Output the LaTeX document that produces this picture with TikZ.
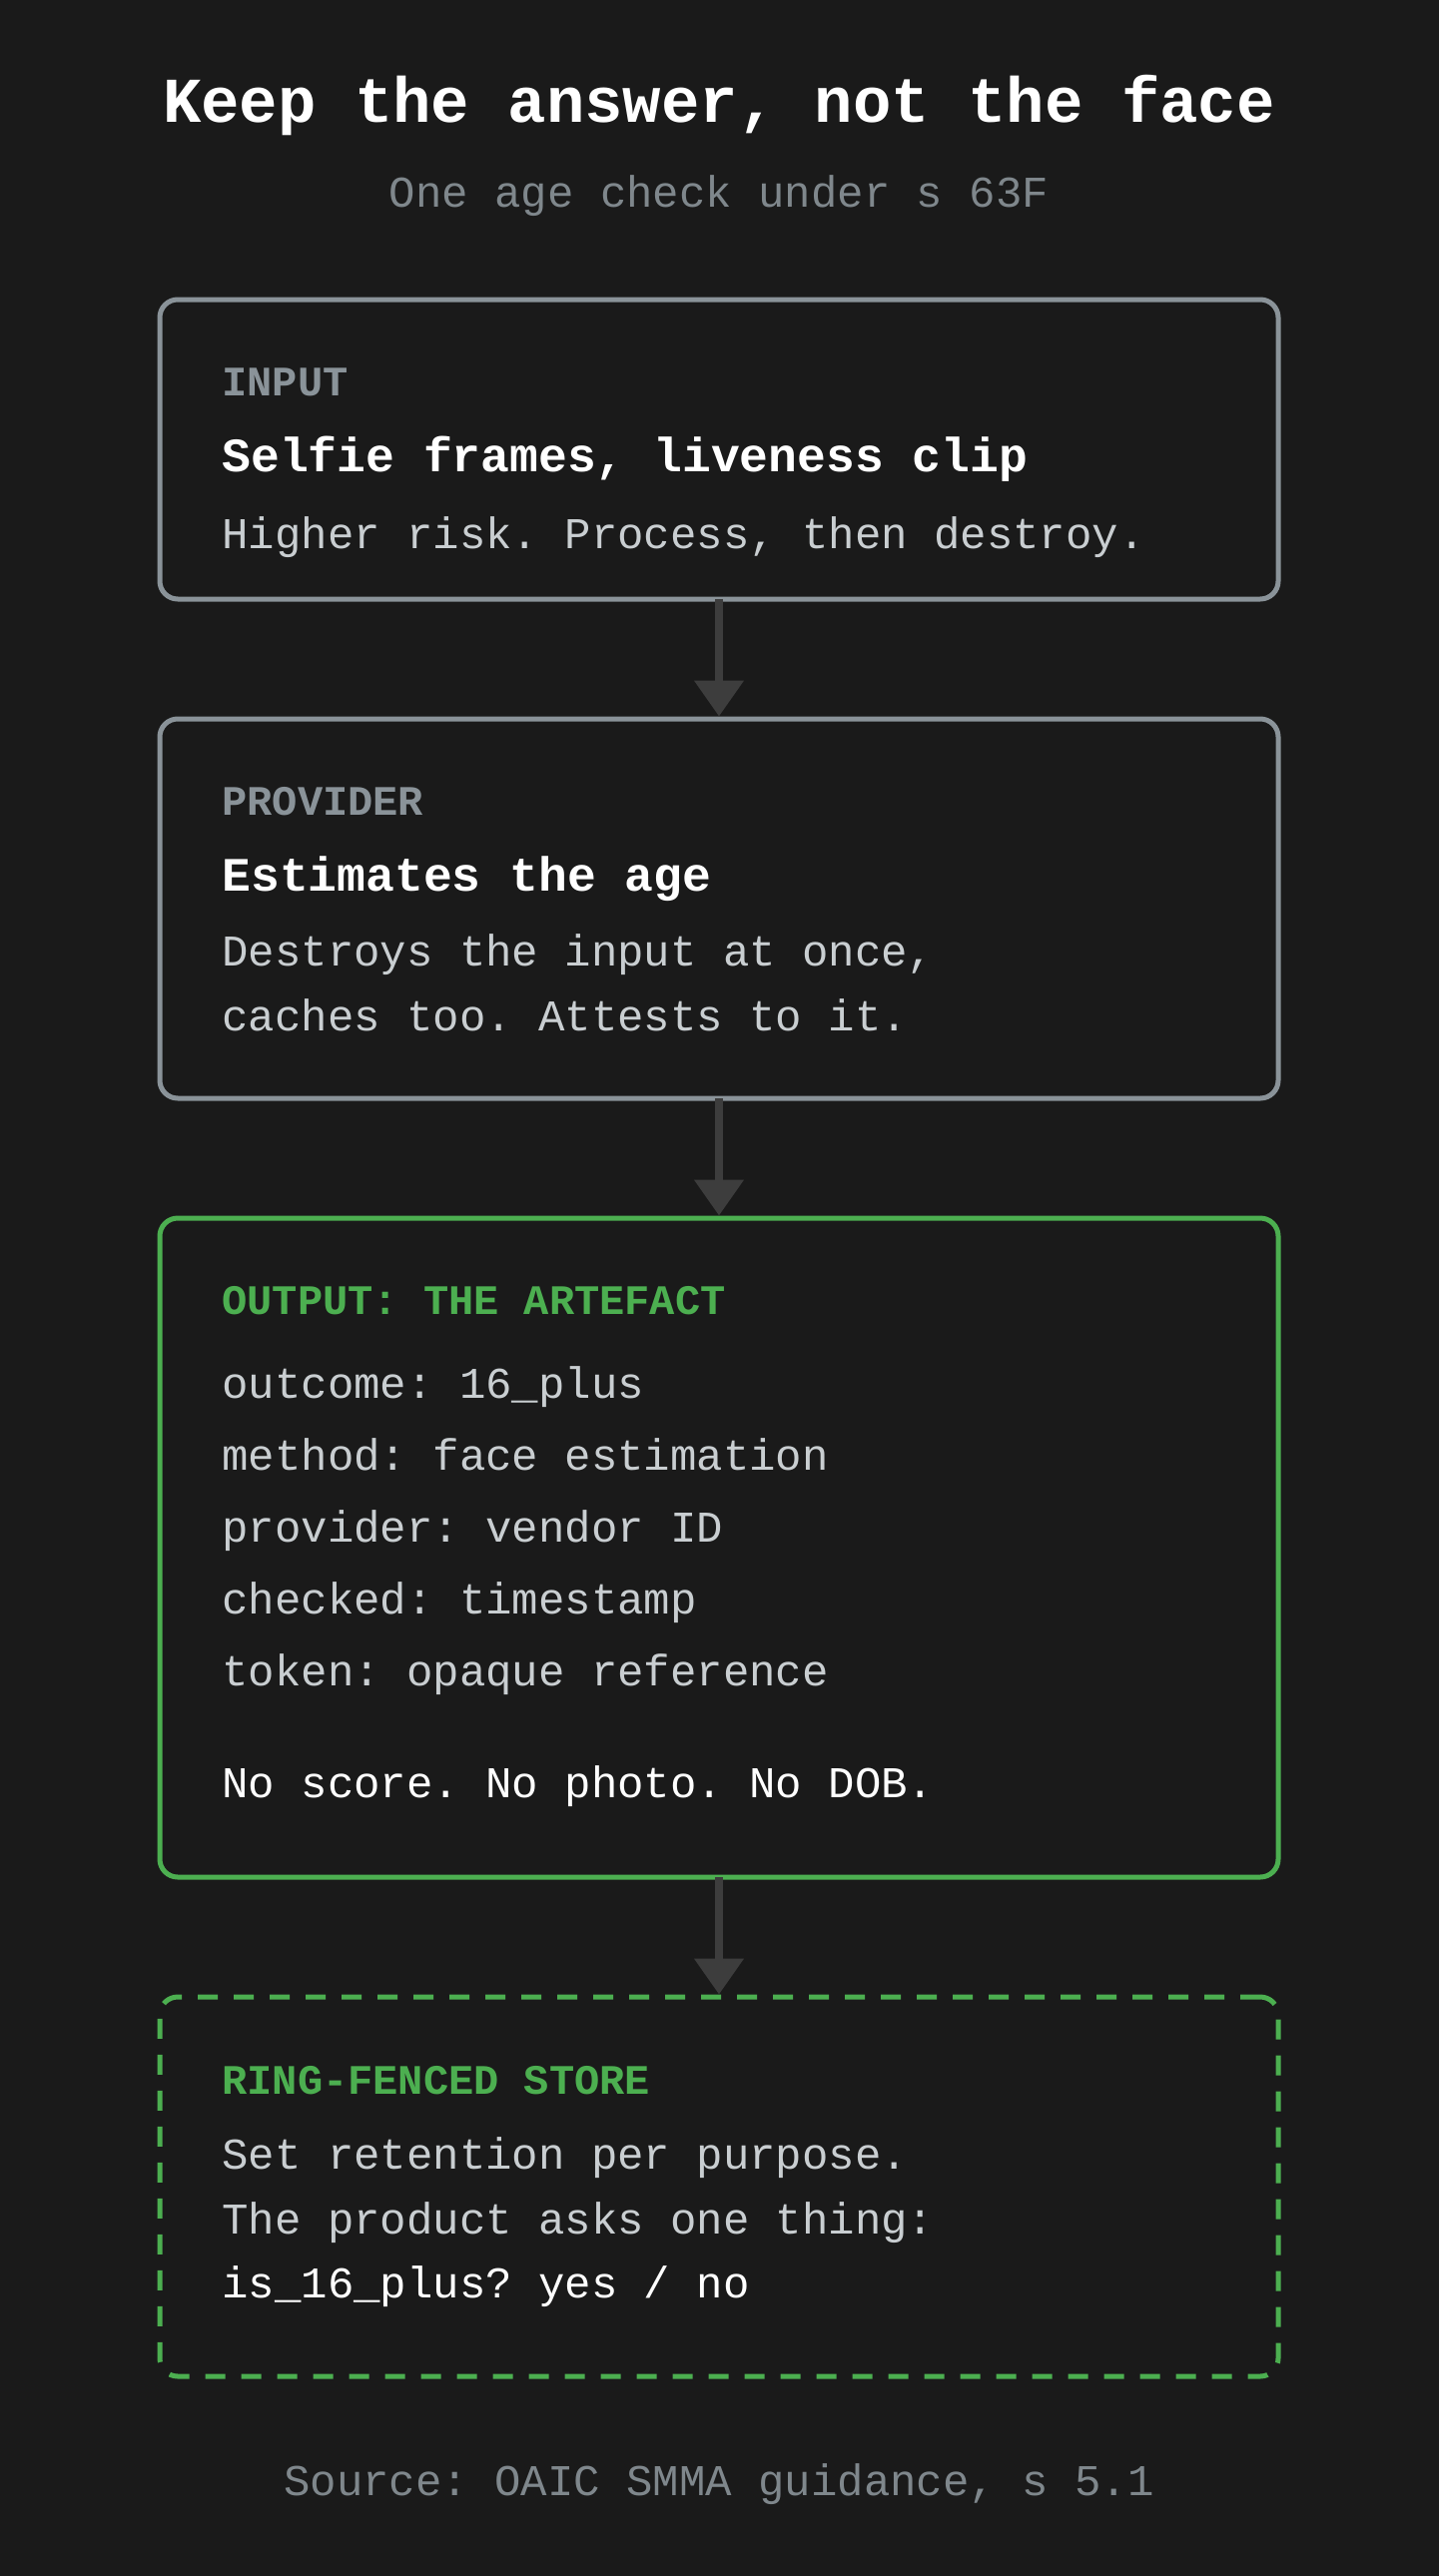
\documentclass[tikz,border=0pt]{standalone}
\usepackage{fontspec}
\setmainfont{Liberation Mono}
\setmonofont{Liberation Mono}
\usetikzlibrary{positioning,arrows.meta}
\frenchspacing

\definecolor{bg}{HTML}{1A1A1A}
\definecolor{edgegray}{HTML}{8A9399}
\definecolor{bodygray}{HTML}{C9CED1}
\definecolor{mutegray}{HTML}{7F878C}
\definecolor{okgreen}{HTML}{4CAF50}
\definecolor{arrowgray}{HTML}{3D3D3D}

\begin{document}
\frenchspacing
\begin{tikzpicture}[
                x=0.5pt, y=-0.5pt,
                box/.style={rectangle, draw=edgegray, line width=2.5pt, rounded corners=9pt,
                            fill=bg, minimum width=560pt, inner sep=0pt, outer sep=0pt},
                greenbox/.style={box, draw=okgreen},
                fencebox/.style={greenbox, dash pattern=on 10pt off 8pt},
                txt/.style={anchor=base west, inner sep=0pt},
                kind/.style={txt, text=edgegray, font=\bfseries\fontsize{21pt}{25pt}\selectfont},
                kindgreen/.style={kind, text=okgreen},
                headtxt/.style={txt, text=white, font=\bfseries\fontsize{24pt}{28pt}\selectfont},
                bodytxt/.style={txt, text=bodygray, font=\fontsize{22pt}{26pt}\selectfont},
                brighttxt/.style={bodytxt, text=white},
                flow/.style={draw=arrowgray, line width=4pt, shorten >=1.25pt,
                             -{Triangle[width=24pt, length=18pt]}},
                node distance=60pt
            ]

            %page
            \useasboundingbox (0,0) rectangle (1440,2580);
            \fill[bg] (-20,-20) rectangle (1460,2600);

            %title
            \node[anchor=base, inner sep=0pt, text=white, font=\bfseries\fontsize{32pt}{36pt}\selectfont]
                (head) at (720,123) {Keep the answer, not the face};
            \node[anchor=base, inner sep=0pt, text=mutegray, font=\fontsize{22pt}{26pt}\selectfont]
                (sub) at (720,207) {One age check under s 63F};

            %blocks
            \node[box, minimum height=150pt]        (input)     at (720,450)        {};
            \node[box, minimum height=190pt]        (provider)  [below=of input]    {};
            \node[greenbox, minimum height=330pt]   (artefact)  [below=of provider] {};
            \node[fencebox, minimum height=190pt]   (store)     [below=of artefact] {};

            %input text
            \node[kind]     (inKind)    at ([shift={(62,96)}]input.north west)  {INPUT};
            \node[headtxt]  (inHead)    at ([shift={(62,172)}]input.north west) {Selfie frames, liveness clip};
            \node[bodytxt]  (inBody)    at ([shift={(62,249)}]input.north west) {Higher risk. Process, then destroy.};

            %provider text
            \node[kind]     (prKind)    at ([shift={(62,96)}]provider.north west)  {PROVIDER};
            \node[headtxt]  (prHead)    at ([shift={(62,172)}]provider.north west) {Estimates the age};
            \node[bodytxt]  (prBodyA)   at ([shift={(62,247)}]provider.north west) {Destroys the input at once,};
            \node[bodytxt]  (prBodyB)   at ([shift={(62,312)}]provider.north west) {caches too. Attests to it.};

            %artefact text
            \node[kindgreen] (arKind)   at ([shift={(62,96)}]artefact.north west)  {OUTPUT: THE ARTEFACT};
            \node[bodytxt]  (arOutcome) at ([shift={(62,180)}]artefact.north west) {outcome: 16\_plus};
            \node[bodytxt]  (arMethod)  at ([shift={(62,252)}]artefact.north west) {method: face estimation};
            \node[bodytxt]  (arVendor)  at ([shift={(62,324)}]artefact.north west) {provider: vendor ID};
            \node[bodytxt]  (arChecked) at ([shift={(62,396)}]artefact.north west) {checked: timestamp};
            \node[bodytxt]  (arToken)   at ([shift={(62,468)}]artefact.north west) {token: opaque reference};
            \node[brighttxt] (arNone)   at ([shift={(62,580)}]artefact.north west) {No score. No photo. No DOB.};

            %store text
            \node[kindgreen] (stKind)   at ([shift={(62,97)}]store.north west)  {RING-FENCED STORE};
            \node[bodytxt]  (stBodyA)   at ([shift={(62,172)}]store.north west) {Set retention per purpose.};
            \node[bodytxt]  (stBodyB)   at ([shift={(62,237)}]store.north west) {The product asks one thing:};
            \node[brighttxt] (stAsk)    at ([shift={(62,301)}]store.north west) {is\_16\_plus? yes / no};

            %arrows
            \draw[flow]     (input) -- (provider);
            \draw[flow]     (provider) -- (artefact);
            \draw[flow]     (artefact) -- (store);

            %source
            \node[anchor=base, inner sep=0pt, text=mutegray, font=\fontsize{22pt}{26pt}\selectfont]
                (source) at (720,2499) {Source: OAIC SMMA guidance, s 5.1};

            \end{tikzpicture}
\end{document}
